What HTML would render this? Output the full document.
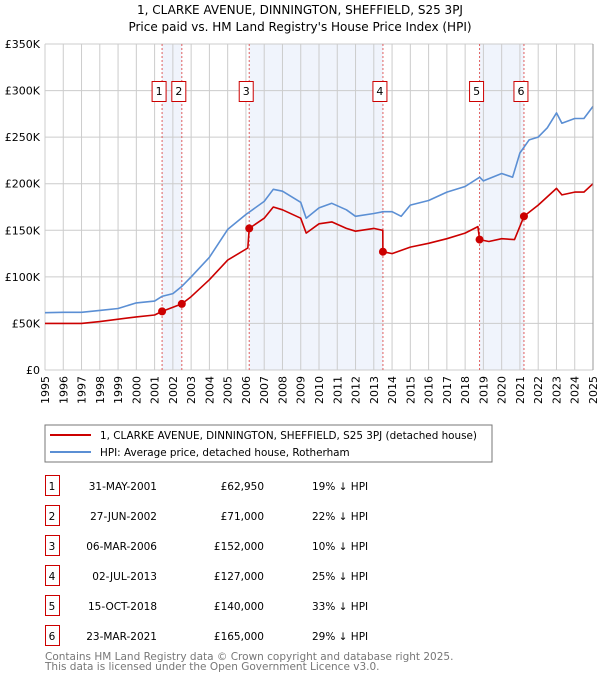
<!DOCTYPE html>
<html><head><meta charset="utf-8"><style>
body{margin:0;background:#fff;font-family:"DejaVu Sans","Liberation Sans",sans-serif;}
svg text{font-family:"DejaVu Sans","Liberation Sans",sans-serif;}
</style></head><body>
<svg id="c" width="600" height="680" xmlns="http://www.w3.org/2000/svg">
<text x="300" y="14" text-anchor="middle" font-size="12">1, CLARKE AVENUE, DINNINGTON, SHEFFIELD, S25 3PJ</text>
<text x="300" y="31" text-anchor="middle" font-size="12">Price paid vs. HM Land Registry's House Price Index (HPI)</text>
<g id="plot"></g>
<rect x="45" y="425" width="447" height="37" fill="#fff" stroke="#777"/>
<line x1="50" y1="435" x2="91" y2="435" stroke="#cc0000" stroke-width="2"/>
<text x="100" y="439" font-size="10.4">1, CLARKE AVENUE, DINNINGTON, SHEFFIELD, S25 3PJ (detached house)</text>
<line x1="50" y1="452" x2="91" y2="452" stroke="#5b8fd4" stroke-width="2"/>
<text x="100" y="456" font-size="10.4">HPI: Average price, detached house, Rotherham</text>
<g id="tbl"></g>
<text x="45" y="660" font-size="10.5" fill="#777">Contains HM Land Registry data © Crown copyright and database right 2025.</text>
<text x="45" y="670" font-size="10.5" fill="#777">This data is licensed under the Open Government Licence v3.0.</text>
</svg>
<script>
const hpiYears=[1995,1996,1997,1998,1999,2000,2001,2001.4,2002,2002.5,2003,2004,2005,2006,2007,2007.5,2008,2009,2009.3,2010,2010.7,2011.5,2012,2013,2013.5,2014,2014.5,2015,2016,2017,2018,2018.8,2019,2020,2020.6,2021,2021.5,2022,2022.5,2023,2023.3,2024,2024.5,2025];
const hpiValues=[61.5,62,62,64,66,72,74,79,82,90,100,121,151,167,181,194,192,180,163,174,179,172,165,168,170,170,165,177,182,191,197,207,203,211,207,233,247,250,260,276,265,270,270,283];
const propYears=[1995,1997,1998,2000,2001,2001.41,2002.49,2003,2004,2005,2006.1,2006.18,2007,2007.5,2008,2009,2009.3,2010,2010.7,2011.5,2012,2013,2013.49,2013.5,2014,2015,2016,2017,2018,2018.7,2018.79,2019.3,2020,2020.7,2021.22,2022,2023,2023.3,2024,2024.5,2025];
const propValues=[50,50,52,57,59,62.95,71,78.7,97,118,131,152,163,175,172,163,147,157,159,152,149,152,150,127,125,132,136,141,147,154,140,138,141,140,165,177,195,188,191,191,200];
const saleLabels=["1","2","3","4","5","6"];
const saleYears=[2001.41,2002.49,2006.18,2013.5,2018.79,2021.22];
const saleValues=[62.95,71,152,127,140,165];
const saleDates=["31-MAY-2001","27-JUN-2002","06-MAR-2006","02-JUL-2013","15-OCT-2018","23-MAR-2021"];
const salePrices=["£62,950","£71,000","£152,000","£127,000","£140,000","£165,000"];
const saleDiffs=["19% ↓ HPI","22% ↓ HPI","10% ↓ HPI","25% ↓ HPI","33% ↓ HPI","29% ↓ HPI"];
const yTicks=[0,50,100,150,200,250,300,350];
const yTickLabels=["£0","£50K","£100K","£150K","£200K","£250K","£300K","£350K"];
const xTicks=[1995,1996,1997,1998,1999,2000,2001,2002,2003,2004,2005,2006,2007,2008,2009,2010,2011,2012,2013,2014,2015,2016,2017,2018,2019,2020,2021,2022,2023,2024,2025];

const X0=45,X1=593,Y0=370,Y1=44;
const xs=y=>X0+(y-1995)/30*(X1-X0);
const ys=v=>Y0-v/350*(Y0-Y1);
const NS="http://www.w3.org/2000/svg";
const plot=document.getElementById('plot');
function mk(tag,attrs,parent){const e=document.createElementNS(NS,tag);for(const k in attrs)e.setAttribute(k,attrs[k]);(parent||plot).appendChild(e);return e;}

for(let i=0;i<saleYears.length-1;i+=2){
  const r=mk('rect',{x:xs(saleYears[i]),y:Y1,width:xs(saleYears[i+1])-xs(saleYears[i]),height:Y0-Y1,fill:'#f0f4fc'});
  
  
}
xTicks.forEach(t=>{
  const l=mk('line',{x1:xs(t),x2:xs(t),y1:Y1,y2:Y0,stroke:'#cccccc','stroke-width':1});
  
  
  const tx=mk('text',{x:0,y:0,'font-size':11,'text-anchor':'end',transform:`translate(${xs(t)+4},${Y0+6}) rotate(-90)`});
  tx.textContent=t;
  
  
});
yTicks.forEach((t,i)=>{
  const l=mk('line',{x1:X0,x2:X1,y1:ys(t),y2:ys(t),stroke:'#cccccc','stroke-width':1});
  
  
  const tx=mk('text',{x:40,y:ys(t)+4,'font-size':11,'text-anchor':'end'});
  tx.textContent=yTickLabels[i];
  
  
});
saleYears.forEach(y=>{
  const l=mk('line',{x1:xs(y),x2:xs(y),y1:Y1,y2:Y0,stroke:'#e06060','stroke-width':1,'stroke-dasharray':'2,2'});
  
  
});
function path(xsA,vsA,color,name){
  const d=xsA.map((x,i)=>(i?'L':'M')+xs(x).toFixed(1)+','+ys(vsA[i]).toFixed(1)).join('');
  const p=mk('path',{d:d,fill:'none',stroke:color,'stroke-width':1.6,'stroke-linejoin':'round'});
  
  
}
path(hpiYears,hpiValues,'#5b8fd4','hpi-line');
path(propYears,propValues,'#cc0000','property-price-line');
saleYears.forEach((y,i)=>{
  const c=mk('circle',{cx:xs(y),cy:ys(saleValues[i]),r:4,fill:'#cc0000'});
  
  
  const b=mk('rect',{x:xs(y)-10,y:81.5,width:14,height:20,fill:'#fff',stroke:'#cc0000'});
  
  
  const t=mk('text',{x:xs(y)-3,y:95,'font-size':11,'text-anchor':'middle'});
  t.textContent=saleLabels[i];
  
  
});
mk('line',{x1:X1,x2:X1,y1:Y1,y2:Y0,stroke:'#999'});
const tbl=document.getElementById('tbl');
saleLabels.forEach((lab,i)=>{
  const y=483+i*30;
  const b=mk('rect',{x:45.5,y:y-7.5,width:14,height:20,fill:'#fff',stroke:'#cc0000'},tbl);
  
  
  const cells=[[52,'middle',lab,'table-row-number'],[157,'end',saleDates[i],'table-date'],[264,'end',salePrices[i],'table-price'],[312,'start',saleDiffs[i],'table-hpi-diff']];
  cells.forEach(c=>{
    const t=mk('text',{x:c[0],y:y+7,'font-size':10.5,'text-anchor':c[1]},tbl);
    t.textContent=c[2];
    
    
  });
});
</script>
</body></html>
